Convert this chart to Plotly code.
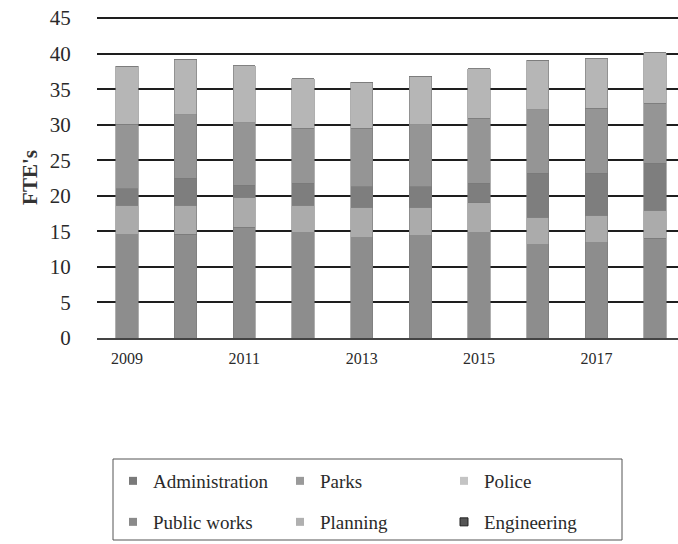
import plotly.graph_objects as go

years = [2009, 2010, 2011, 2012, 2013, 2014, 2015, 2016, 2017, 2018]
series_names = ["Administration", "Parks", "Police", "Public works", "Planning", "Engineering"]
administration = [14.5, 14.6, 15.6, 14.8, 14.1, 14.4, 14.8, 13.1, 13.4, 14.0]
parks = [4.2, 4.1, 4.2, 3.9, 4.3, 4.0, 4.2, 3.9, 3.9, 4.0]
police = [2.3, 3.8, 1.7, 3.1, 2.9, 2.9, 2.8, 6.2, 5.9, 6.6]
public_works = [9.1, 8.9, 8.8, 7.7, 8.2, 8.7, 9.1, 8.9, 9.1, 8.4]
planning = [8.1, 7.8, 8.0, 7.0, 6.5, 6.8, 7.0, 7.0, 7.0, 7.1]
engineering = [0, 0, 0, 0, 0, 0, 0, 0, 0, 0]
y_ticks = [0, 5, 10, 15, 20, 25, 30, 35, 40, 45]
x_ticks = [2009, 2011, 2013, 2015, 2017]

values = [administration, parks, police, public_works, planning, engineering]
bar_colors = ["#8d8d8d", "#ababab", "#7e7e7e", "#959595", "#b6b6b6", "#4a4a4a"]
legend_colors = ["#7a7a7a", "#9a9a9a", "#c4c4c4", "#8a8a8a", "#b0b0b0", "#555555"]

W, H = 678, 544
L, R, T, B = 97, 0, 17, 206
pw, ph = W - L - R, H - T - B

def px_x(x):
    return (x - L) / pw

def px_y(y):
    return (H - B - y) / ph

fig = go.Figure()
for name, vals, col in zip(series_names, values, bar_colors):
    fig.add_trace(go.Bar(x=years, y=vals, name=name, marker=dict(color=col, line=dict(width=0.6, color="#7a7a7a")),
                         width=0.38, showlegend=False))

# legend entries: row/column positions (text start px, row center px)
text_x = [153, 320, 484]
row_y = [481, 522]
font = "Liberation Serif"
legend_layouts = {}
for i, (name, col) in enumerate(zip(series_names, legend_colors)):
    key = "legend" if i == 0 else f"legend{i+1}"
    r, c = divmod(i, 3)
    fig.add_trace(go.Scatter(x=[None], y=[None], mode="markers", name=name,
                             marker=dict(symbol="square", size=8, color=col,
                                         line=dict(width=1 if i == 5 else 0, color="#222")),
                             legend=key, showlegend=True))
    legend_layouts[key] = dict(x=px_x(text_x[c] - 40), y=px_y(row_y[r]), xanchor="left", yanchor="middle",
                               orientation="h", bgcolor="rgba(0,0,0,0)", borderwidth=0,
                               font=dict(family=font, size=19, color="#2a2a2a"))

fig.update_layout(
    width=W, height=H, barmode="stack",
    margin=dict(l=L, r=R, t=T, b=B, pad=0),
    paper_bgcolor="white", plot_bgcolor="white",
    font=dict(family=font, color="#2a2a2a"),
    xaxis=dict(range=[2008.49, 2018.39], tickmode="array", tickvals=x_ticks, ticktext=[str(t) for t in x_ticks],
               showgrid=False, showline=True, linecolor="#444", linewidth=2, zeroline=False,
               ticks="outside", ticklen=5, tickcolor="rgba(0,0,0,0)",
               tickfont=dict(family=font, size=16, color="#2a2a2a")),
    yaxis=dict(range=[0, 45.15], tickmode="array", tickvals=y_ticks, showgrid=True, gridcolor="#1e1e1e", gridwidth=2,
               zeroline=False, showline=False, ticks="outside", ticklen=21, tickcolor="rgba(0,0,0,0)",
               tickfont=dict(family=font, size=21, color="#2a2a2a"),
               title=dict(text="<b>FTE's</b>", font=dict(family=font, size=21, color="#333"), standoff=6)),
    shapes=[dict(type="rect", xref="paper", yref="paper", x0=px_x(113), x1=px_x(622), y0=px_y(459), y1=px_y(540),
                 line=dict(color="#555", width=1), fillcolor="rgba(0,0,0,0)")],
    **legend_layouts,
)

fig.write_html("out.html")
